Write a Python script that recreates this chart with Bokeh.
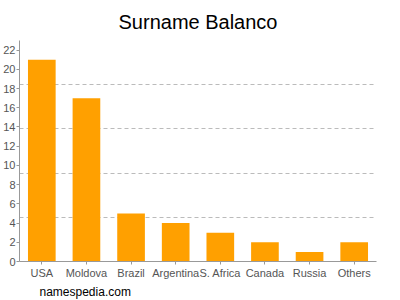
from bokeh.plotting import figure
from bokeh.models import ColumnDataSource, FixedTicker, Title, Range1d, FactorRange
from bokeh.embed import file_html
from bokeh.resources import INLINE

countries = ["USA", "Moldova", "Brazil", "Argentina", "S. Africa", "Canada", "Russia", "Others"]
counts = [21, 17, 5, 4, 3, 2, 1, 2]
y_ticks = [0, 2, 4, 6, 8, 10, 12, 14, 16, 18, 20, 22]
grid_lines = [4.6, 9.2, 13.8, 18.4, 23]

src = ColumnDataSource(dict(x=countries, top=counts))

p = figure(width=400, height=300, x_range=FactorRange(*countries, range_padding=0),
           y_range=Range1d(0, 23), output_backend="svg", toolbar_location=None,
           min_border_left=0, min_border_right=24, min_border_top=0, min_border_bottom=0)
p.title.text = "Surname Balanco"
p.title.text_font = "Liberation Sans"
p.title.text_font_size = "20px"
p.title.text_font_style = "normal"
p.title.align = "center"
p.title.text_color = "#000000"
p.title.standoff = 16

p.vbar(x="x", top="top", width=0.62, source=src, color="#FFA000", line_color=None)

font = "Liberation Sans"
for ax in (p.xaxis[0], p.yaxis[0]):
    ax.axis_line_color = "#999999"
    ax.major_tick_line_color = "#999999"
    ax.minor_tick_line_color = None
    ax.major_tick_in = 0
    ax.major_tick_out = 3
    ax.major_label_text_font = font
    ax.major_label_text_font_size = "11px"
    ax.major_label_text_color = "#555555"
    ax.major_label_standoff = 2
p.yaxis.major_label_standoff = 1

p.yaxis.ticker = FixedTicker(ticks=y_ticks)
p.xgrid.grid_line_color = None
p.ygrid.ticker = FixedTicker(ticks=grid_lines)
p.ygrid.grid_line_color = "#bbbbbb"
p.ygrid.grid_line_dash = "4 3"
p.outline_line_color = None

p.add_layout(Title(text="namespedia.com", align="left", text_font=font, text_font_size="12px",
                   text_font_style="normal", text_color="#000000", offset=20, standoff=3), "below")

open("out.html", "w").write(file_html(p, INLINE))
